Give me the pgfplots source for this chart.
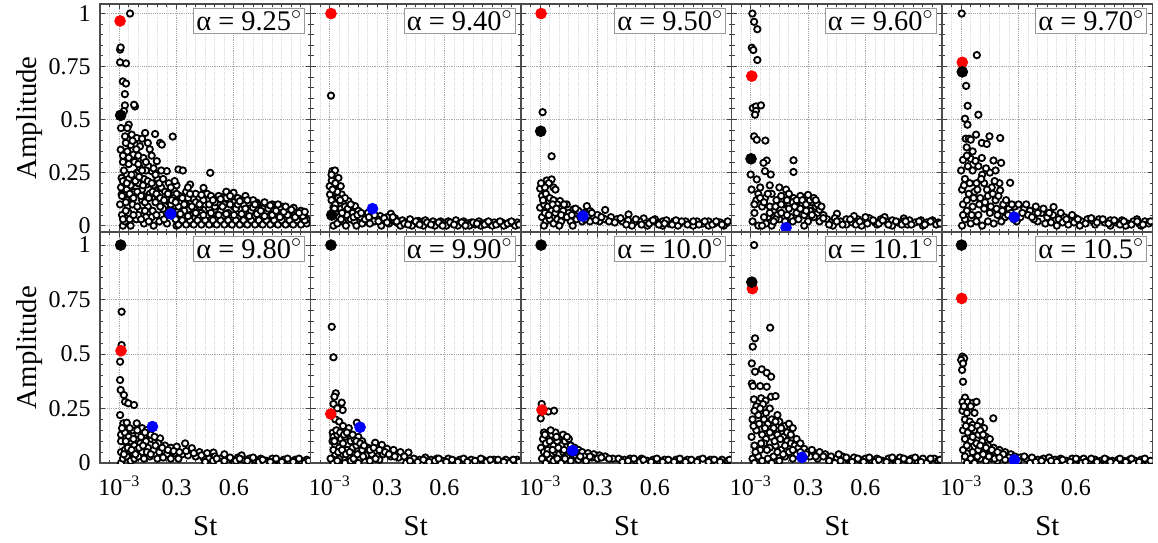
\documentclass[border=0pt]{standalone}
\usepackage{fontspec}
\setmainfont{Liberation Serif}
\usepackage{pgfplots}
\pgfplotsset{compat=1.18}
\tikzset{legbox/.style={draw=gray!80, fill=white, anchor=north east, inner sep=1.2pt, line width=0.5pt, font=\fontsize{14.2}{16}\selectfont}}
\pgfplotsset{
 base/.style={scale only axis, width=105.25pt, anchor=south west, xmin=-0.1, xmax=1,
  xtick={0.001,0.3,0.6},
  minor xtick={-0.05,0.05,0.1,0.15,0.2,0.25,0.35,0.4,0.45,0.5,0.55,0.65,0.7,0.75,0.8,0.85,0.9,0.95},
  ytick={0,0.25,0.5,0.75,1},
  minor ytick={0.05,0.1,0.15,0.2,0.3,0.35,0.4,0.45,0.55,0.6,0.65,0.7,0.8,0.85,0.9,0.95},
  xmajorgrids, ymajorgrids, xminorgrids,
  major grid style={dash pattern=on 0.6pt off 0.5pt, gray!70, line width=0.5pt},
  minor grid style={dash pattern=on 0.6pt off 0.5pt, gray!30, line width=0.45pt},
  tick align=inside, major tick length=2.5pt, minor tick length=1.5pt,
  every tick/.style={black!75, line width=0.5pt},
  axis line style={black!70, line width=0.65pt},
  xticklabels={}, yticklabels={},
  tick label style={font=\fontsize{12}{14}\selectfont},
  yticklabel style={inner ysep=0.3pt, inner xsep=4.5pt},
  label style={font=\fontsize{14.4}{17}\selectfont},
  clip marker paths=true,
 },
 toprow/.style={base, height=114pt, ymin=-0.03, ymax=1.045},
 botrow/.style={base, height=115.5pt, ymin=0, ymax=1.06,
  xticklabels={10\textsuperscript{−3},0.3,0.6}, xlabel={St},
  xticklabel style={anchor=base, yshift=-16pt},
  xlabel style={at={(axis description cs:0.5,-0.273)}, anchor=center}},
 leftcol/.style={yticklabels={0,0.25,0.5,0.75,1}, ylabel={Amplitude},
  ylabel style={at={(axis description cs:-0.333,0.5)}, anchor=center}},
 open/.style={only marks, mark=*, mark size=1.6pt, mark options={fill=white, draw=black, line width=0.9pt}},
 dot/.style={only marks, mark=*, mark size=2.7pt, color=#1, mark options={fill=#1, draw=#1}},
}
\begin{document}
\begin{tikzpicture}
\path[use as bounding box] (0,0) rectangle (579pt,271pt);
% ---------- Panel 1: 9.25
\begin{axis}[toprow, leftcol, at={(50pt,155pt)}]
\addplot[open] coordinates {(0.057,1.0) (0.005,0.83) (0.008,0.84) (0.005,0.77) (0.036,0.765) (0.019,0.68) (0.036,0.67) (0.03,0.62) (0.03,0.567) (0.083,0.562) (0.078,0.57) (0.025,0.54) (0.05,0.476) (0.043,0.46) (0.01,0.46)
(0.031,0.421) (0.066,0.429) (0.092,0.413) (0.136,0.437) (0.188,0.432) (0.214,0.39) (0.223,0.382) (0.28,0.42) (0.008,0.358) (0.043,0.35) (0.083,0.382) (0.109,0.374) (0.074,0.335) (0.127,0.319) (0.197,0.304) (0.153,0.28) (0.109,0.272) (0.04,0.241) (0.092,0.249) (0.17,0.257) (0.249,0.257) (0.31,0.265) (0.333,0.26) (0.476,0.249) (0.013,0.225) (0.074,0.202) (0.144,0.194) (0.214,0.178) (0.284,0.17) (0.371,0.194) (0.441,0.178) (0.013,0.147) (0.066,0.131) (0.127,0.139) (0.188,0.131) (0.249,0.124) (0.319,0.139) (0.389,0.124) (0.441,0.131) (0.493,0.124) (0.546,0.135) (0.598,0.155) (0.659,0.131) (0.72,0.108) (0.781,0.092) (0.86,0.077) (0.912,0.084)
(0.02,0.3) (0.06,0.38) (0.1,0.33) (0.16,0.36) (0.05,0.29) (0.13,0.22) (0.2,0.22) (0.26,0.2) (0.3,0.19) (0.35,0.16) (0.4,0.15) (0.45,0.1) (0.5,0.09) (0.55,0.1) (0.6,0.11) (0.65,0.1) (0.7,0.09) (0.75,0.08) (0.8,0.1) (0.85,0.09) (0.9,0.06) (0.95,0.07)
(0.005,0.1) (0.01,0.18) (0.015,0.05) (0.02,0.0) (0.025,0.26) (0.03,0.2) (0.04,0.17) (0.045,0.09) (0.05,0.22) (0.06,0.19) (0.08,0.24) (0.1,0.2) (0.12,0.17) (0.14,0.26) (0.18,0.19) (0.22,0.18) (0.24,0.09) (0.26,0.13) (0.3,0.15) (0.34,0.07) (0.36,0.18) (0.42,0.09) (0.46,0.15) (0.52,0.14) (0.56,0.16) (0.62,0.13) (0.66,0.14) (0.7,0.12)
(0.04,0.12) (0.08,0.16) (0.12,0.12) (0.16,0.15) (0.2,0.14) (0.24,0.16) (0.28,0.13) (0.32,0.11) (0.36,0.13) (0.4,0.11) (0.44,0.12) (0.48,0.14) (0.52,0.11) (0.56,0.13) (0.6,0.09) (0.64,0.12) (0.68,0.08) (0.72,0.1) (0.76,0.11) (0.8,0.07) (0.84,0.08) (0.88,0.07) (0.92,0.06) (0.96,0.05)
(0.03,0.02) (0.05,0.06) (0.07,0.1) (0.09,0.03) (0.11,0.07) (0.13,0.01) (0.15,0.09) (0.17,0.04) (0.19,0.11) (0.21,0.02) (0.23,0.08) (0.25,0.01) (0.27,0.1) (0.29,0.04) (0.31,0.07) (0.33,0.02) (0.35,0.1) (0.37,0.05) (0.39,0.08) (0.41,0.02) (0.43,0.06) (0.45,0.03) (0.47,0.08) (0.49,0.01) (0.51,0.05) (0.53,0.07) (0.55,0.02) (0.57,0.06) (0.59,0.04) (0.61,0.08) (0.63,0.02) (0.65,0.06) (0.67,0.03) (0.69,0.07) (0.71,0.01) (0.73,0.05) (0.75,0.03) (0.77,0.06) (0.79,0.02) (0.81,0.05) (0.83,0.03) (0.85,0.06) (0.87,0.01) (0.89,0.04) (0.91,0.02) (0.93,0.05) (0.95,0.02) (0.97,0.04)
(0.06,0.0) (0.1,0.05) (0.14,0.04) (0.18,0.0) (0.22,0.05) (0.26,0.06) (0.3,0.0) (0.34,0.04) (0.38,0.01) (0.42,0.04) (0.46,0.05) (0.5,0.03) (0.54,0.04) (0.58,0.01) (0.62,0.04) (0.66,0.01) (0.7,0.04) (0.74,0.01) (0.78,0.04) (0.82,0.01) (0.86,0.03) (0.9,0.01) (0.94,0.03) (0.98,0.01) (0.98,0.03)
(0.31,0.005) (0.33,0.025) (0.35,0.005) (0.37,0.025) (0.39,0.005) (0.41,0.025) (0.43,0.005) (0.45,0.025) (0.47,0.005) (0.49,0.025) (0.51,0.005) (0.53,0.025) (0.55,0.005) (0.57,0.025) (0.59,0.005) (0.61,0.025) (0.63,0.005) (0.65,0.025) (0.67,0.005) (0.69,0.025) (0.71,0.005) (0.73,0.025) (0.75,0.005) (0.77,0.025) (0.79,0.005) (0.81,0.025) (0.83,0.005) (0.85,0.025) (0.87,0.005) (0.89,0.025) (0.91,0.005) (0.93,0.025) (0.95,0.005) (0.97,0.025)
(0.32,0.055) (0.36,0.045) (0.4,0.06) (0.44,0.05) (0.48,0.06) (0.52,0.05) (0.56,0.055) (0.6,0.05) (0.64,0.055) (0.68,0.045) (0.72,0.055) (0.76,0.045) (0.8,0.05) (0.84,0.04) (0.88,0.05) (0.92,0.04) (0.96,0.045)
(0.31,0.09) (0.34,0.1) (0.38,0.09) (0.42,0.1) (0.47,0.1) (0.5,0.11) (0.54,0.09) (0.58,0.1) (0.62,0.1) (0.66,0.08) (0.7,0.085) (0.74,0.07) (0.78,0.08) (0.82,0.07) (0.86,0.065) (0.9,0.075) (0.94,0.06) (0.97,0.065)
(0.33,0.13) (0.37,0.15) (0.43,0.145) (0.49,0.12) (0.53,0.125) (0.58,0.14) (0.63,0.115) (0.67,0.12) (0.71,0.1) (0.79,0.095) (0.83,0.1) (0.87,0.09)
(0.02,0.03) (0.035,0.07) (0.055,0.03) (0.075,0.05) (0.095,0.09) (0.115,0.03) (0.135,0.07) (0.155,0.02) (0.175,0.07) (0.195,0.05) (0.215,0.09) (0.235,0.03) (0.255,0.05) (0.275,0.07) (0.295,0.03)
(0.015,0.14) (0.035,0.11) (0.055,0.15) (0.075,0.13) (0.095,0.16) (0.115,0.14) (0.135,0.11) (0.155,0.13) (0.175,0.16) (0.195,0.15) (0.215,0.13) (0.235,0.12) (0.255,0.15) (0.275,0.12) (0.295,0.11)
(0.02,0.21) (0.04,0.2) (0.065,0.24) (0.085,0.21) (0.105,0.23) (0.125,0.19) (0.15,0.21) (0.17,0.2) (0.19,0.24) (0.21,0.2) (0.23,0.22) (0.27,0.18) (0.29,0.21)
(0.02,0.33) (0.05,0.32) (0.08,0.3) (0.1,0.29) (0.12,0.26) (0.14,0.3) (0.18,0.27) (0.22,0.26) (0.035,0.39) (0.07,0.4) (0.09,0.36) (0.12,0.41) (0.15,0.39) (0.17,0.33)};
\addplot[dot=red] coordinates {(0.005,0.965)};
\addplot[dot=black] coordinates {(0.008,0.52)};
\addplot[dot=blue] coordinates {(0.27,0.055)};
\node[legbox] at (rel axis cs:0.974,0.982) {α = 9.25\textsuperscript{$\circ$}};
\end{axis}
% ---------- Panel 2: 9.40
\begin{axis}[toprow, at={(155.25pt,155pt)}]
\addplot[open] coordinates {(0.007,0.613) (0.014,0.257) (0.028,0.26) (0.011,0.213) (0.046,0.225) (0.02,0.186) (0.0,0.186) (0.058,0.186) (0.002,0.147) (0.063,0.147) (0.037,0.131) (0.072,0.113) (0.098,0.116) (0.133,0.092) (0.02,0.085) (0.264,0.045) (0.32,0.056) (0.342,0.034) (0.465,0.022)
(0.01,0.24) (0.03,0.2) (0.04,0.16) (0.05,0.1) (0.06,0.08) (0.08,0.09) (0.1,0.07) (0.12,0.06) (0.15,0.07) (0.18,0.05) (0.2,0.06) (0.22,0.04) (0.25,0.03) (0.03,0.06) (0.05,0.04) (0.07,0.02) (0.09,0.05) (0.11,0.03) (0.13,0.02) (0.16,0.04) (0.19,0.02) (0.23,0.02) (0.02,0.0) (0.04,0.01) (0.06,0.03) (0.085,0.0) (0.14,0.0) (0.17,0.01) (0.21,0.01) (0.28,0.02) (0.3,0.04) (0.34,0.02) (0.01,0.12) (0.03,0.1) (0.045,0.13) (0.08,0.13)
(0.36,0.01) (0.38,0.025) (0.4,0.015) (0.42,0.03) (0.44,0.01) (0.46,0.02) (0.48,0.01) (0.5,0.025) (0.52,0.01) (0.54,0.02) (0.56,0.01) (0.58,0.02) (0.6,0.01) (0.62,0.02) (0.64,0.01) (0.66,0.025) (0.68,0.01) (0.7,0.02) (0.72,0.01) (0.74,0.015) (0.76,0.005) (0.78,0.02) (0.8,0.01) (0.82,0.015) (0.84,0.005) (0.86,0.015) (0.88,0.01) (0.9,0.015) (0.92,0.005) (0.94,0.015) (0.96,0.01) (0.98,0.015) (0.37,0.0) (0.43,0.0) (0.49,0.0) (0.55,0.0) (0.61,0.0) (0.67,0.0) (0.73,0.0) (0.79,0.0) (0.85,0.0) (0.91,0.0) (0.97,0.0) (0.27,0.0) (0.31,0.01)
(0.35,0.02) (0.39,0.01) (0.41,0.005) (0.45,0.02) (0.47,0.005) (0.51,0.015) (0.53,0.005) (0.57,0.015) (0.59,0.0) (0.63,0.015) (0.65,0.005) (0.69,0.015) (0.71,0.0) (0.75,0.015) (0.77,0.01) (0.81,0.005) (0.83,0.02) (0.87,0.005) (0.89,0.02) (0.93,0.01) (0.95,0.02) (0.99,0.005)
(0.015,0.17) (0.025,0.08) (0.055,0.12) (0.065,0.06) (0.095,0.08) (0.11,0.1) (0.125,0.04) (0.145,0.05) (0.165,0.06) (0.185,0.03) (0.205,0.04) (0.235,0.05) (0.255,0.02) (0.285,0.035) (0.3,0.015) (0.33,0.04)};
\addplot[dot=red] coordinates {(0.007,1.0)};
\addplot[dot=black] coordinates {(0.011,0.05)};
\addplot[dot=blue] coordinates {(0.224,0.08)};
\node[legbox] at (rel axis cs:0.974,0.982) {α = 9.40\textsuperscript{$\circ$}};
\end{axis}
% ---------- Panel 3: 9.50
\begin{axis}[toprow, at={(260.5pt,155pt)}]
\addplot[open] coordinates {(0.013,0.535) (0.06,0.327) (0.0,0.175) (0.034,0.213) (0.06,0.218) (0.045,0.2) (0.025,0.18) (0.07,0.18) (0.08,0.17) (0.0,0.085) (0.104,0.116) (0.139,0.1) (0.174,0.077) (0.244,0.092) (0.261,0.069) (0.34,0.074) (0.462,0.053) (0.541,0.034)
(0.01,0.14) (0.03,0.15) (0.05,0.13) (0.07,0.12) (0.09,0.1) (0.02,0.1) (0.04,0.09) (0.06,0.07) (0.08,0.06) (0.1,0.08) (0.12,0.07) (0.15,0.06) (0.18,0.05) (0.2,0.07) (0.23,0.06) (0.25,0.05) (0.28,0.04) (0.3,0.05) (0.01,0.04) (0.03,0.02) (0.05,0.03) (0.07,0.01) (0.09,0.03) (0.11,0.02) (0.13,0.04) (0.16,0.02) (0.19,0.03) (0.22,0.02) (0.26,0.02) (0.02,0.0) (0.1,0.0) (0.17,0.0) (0.31,0.02) (0.34,0.03) (0.37,0.04) (0.4,0.03) (0.43,0.02) (0.005,0.2) (0.015,0.12)
(0.46,0.025) (0.49,0.015) (0.52,0.02) (0.55,0.01) (0.58,0.02) (0.61,0.015) (0.64,0.02) (0.67,0.01) (0.7,0.02) (0.73,0.01) (0.76,0.02) (0.79,0.01) (0.82,0.02) (0.85,0.01) (0.88,0.02) (0.91,0.01) (0.94,0.015) (0.97,0.01) (0.48,0.0) (0.56,0.0) (0.64,0.0) (0.72,0.0) (0.8,0.0) (0.88,0.0) (0.96,0.0) (0.6,0.03) (0.66,0.025)
(0.45,0.005) (0.5,0.03) (0.53,0.005) (0.57,0.01) (0.59,0.025) (0.62,0.005) (0.65,0.01) (0.69,0.005) (0.71,0.025) (0.74,0.02) (0.77,0.005) (0.8,0.02) (0.83,0.005) (0.86,0.02) (0.9,0.005) (0.92,0.02) (0.95,0.005) (0.98,0.02)
(0.025,0.06) (0.045,0.05) (0.065,0.1) (0.085,0.08) (0.11,0.05) (0.125,0.1) (0.14,0.04) (0.165,0.05) (0.185,0.08) (0.21,0.04) (0.235,0.03) (0.27,0.06) (0.29,0.025) (0.32,0.04) (0.36,0.02) (0.39,0.015) (0.42,0.035)};
\addplot[dot=red] coordinates {(0.005,1.0)};
\addplot[dot=black] coordinates {(0.003,0.445)};
\addplot[dot=blue] coordinates {(0.223,0.045)};
\node[legbox] at (rel axis cs:0.974,0.982) {α = 9.50\textsuperscript{$\circ$}};
\end{axis}
% ---------- Panel 4: 9.60
\begin{axis}[toprow, at={(365.75pt,155pt)}]
\addplot[open] coordinates {(0.009,1.0) (0.018,0.961) (0.035,0.926) (0.006,0.839) (0.014,0.828) (0.035,0.781) (0.011,0.554) (0.028,0.562) (0.054,0.567) (0.028,0.541) (0.023,0.523) (0.018,0.421) (0.032,0.405) (0.077,0.401) (0.084,0.307) (0.067,0.296) (0.224,0.308) (0.224,0.253) (0.0,0.241) (0.075,0.257) (0.105,0.241) (0.032,0.218)
(0.005,0.17) (0.05,0.18) (0.1,0.19) (0.15,0.18) (0.185,0.17) (0.04,0.15) (0.075,0.13) (0.135,0.12) (0.17,0.1) (0.2,0.08) (0.225,0.13) (0.26,0.14) (0.293,0.135) (0.32,0.11) (0.34,0.09) (0.24,0.06) (0.28,0.05) (0.31,0.07) (0.35,0.06) (0.38,0.05) (0.02,0.06) (0.06,0.09) (0.09,0.04) (0.12,0.07) (0.15,0.03) (0.18,0.02) (0.21,0.04) (0.25,0.09) (0.27,0.1) (0.3,0.02) (0.33,0.04) (0.36,0.02) (0.01,0.02) (0.04,0.0) (0.08,0.01) (0.11,0.0) (0.14,0.05) (0.451,0.056) (0.8,0.034) (0.03,0.12) (0.11,0.15) (0.16,0.14) (0.2,0.15)
(0.4,0.03) (0.42,0.015) (0.44,0.035) (0.47,0.02) (0.5,0.03) (0.53,0.015) (0.56,0.03) (0.59,0.02) (0.62,0.035) (0.65,0.015) (0.68,0.03) (0.71,0.02) (0.74,0.025) (0.77,0.015) (0.8,0.02) (0.83,0.025) (0.86,0.015) (0.89,0.025) (0.92,0.015) (0.95,0.025) (0.98,0.015) (0.43,0.0) (0.5,0.005) (0.58,0.0) (0.66,0.005) (0.74,0.0) (0.82,0.005) (0.9,0.0) (0.97,0.005) (0.54,0.045) (0.6,0.04) (0.7,0.04) (0.38,0.035)
(0.22,0.11) (0.24,0.12) (0.27,0.12) (0.29,0.1) (0.31,0.12) (0.33,0.13) (0.3,0.145) (0.26,0.08) (0.23,0.09) (0.35,0.1) (0.36,0.075) (0.32,0.05) (0.29,0.07) (0.34,0.12) (0.37,0.09)
(0.02,0.1) (0.05,0.13) (0.07,0.11) (0.09,0.15) (0.1,0.09) (0.13,0.09) (0.16,0.1) (0.19,0.12) (0.07,0.04) (0.1,0.06) (0.13,0.03) (0.16,0.06) (0.19,0.05) (0.22,0.02) (0.25,0.03) (0.28,0.0) (0.12,0.02) (0.06,0.0)
(0.41,0.005) (0.45,0.02) (0.48,0.005) (0.52,0.03) (0.55,0.005) (0.57,0.02) (0.61,0.01) (0.64,0.025) (0.67,0.01) (0.69,0.025) (0.72,0.005) (0.76,0.02) (0.79,0.005) (0.81,0.02) (0.84,0.005) (0.88,0.02) (0.91,0.005) (0.94,0.02) (0.99,0.01)};
\addplot[dot=red] coordinates {(0.006,0.705)};
\addplot[dot=black] coordinates {(0.002,0.315)};
\addplot[dot=blue] coordinates {(0.185,-0.01)};
\node[legbox] at (rel axis cs:0.974,0.982) {α = 9.60\textsuperscript{$\circ$}};
\end{axis}
% ---------- Panel 5: 9.70
\begin{axis}[toprow, at={(471pt,155pt)}]
\addplot[open] coordinates {(0.003,1.0) (0.082,0.804) (0.026,0.659) (0.034,0.565) (0.09,0.523) (0.02,0.504) (0.033,0.476) (0.024,0.41) (0.04,0.41) (0.05,0.405) (0.078,0.429) (0.108,0.39) (0.148,0.421) (0.204,0.413) (0.029,0.369) (0.134,0.385) (0.01,0.31) (0.05,0.315) (0.075,0.305) (0.108,0.319) (0.169,0.307) (0.209,0.296) (0.035,0.28) (0.11,0.24) (0.15,0.25) (0.256,0.202) (0.204,0.166)
(0.0,0.26) (0.02,0.22) (0.06,0.26) (0.08,0.2) (0.12,0.2) (0.16,0.18) (0.2,0.2) (0.005,0.17) (0.04,0.15) (0.07,0.16) (0.1,0.13) (0.14,0.14) (0.18,0.12) (0.22,0.1) (0.25,0.08) (0.28,0.09) (0.3,0.1) (0.33,0.08) (0.36,0.07) (0.39,0.09) (0.42,0.06) (0.483,0.088) (0.01,0.1) (0.03,0.07) (0.06,0.09) (0.09,0.05) (0.12,0.08) (0.15,0.06) (0.19,0.05) (0.23,0.04) (0.26,0.06) (0.31,0.04) (0.35,0.05) (0.02,0.03) (0.05,0.01) (0.08,0.02) (0.11,0.0) (0.14,0.02) (0.17,0.01) (0.21,0.02) (0.29,0.02) (0.919,0.03) (0.005,0.0) (0.01,0.05)
(0.45,0.04) (0.48,0.05) (0.51,0.03) (0.54,0.04) (0.57,0.02) (0.6,0.035) (0.63,0.02) (0.66,0.03) (0.69,0.02) (0.72,0.03) (0.75,0.015) (0.78,0.025) (0.81,0.015) (0.84,0.025) (0.87,0.01) (0.9,0.02) (0.93,0.01) (0.96,0.02) (0.98,0.01) (0.4,0.02) (0.44,0.01) (0.5,0.0) (0.56,0.005) (0.62,0.0) (0.7,0.005) (0.78,0.0) (0.86,0.0) (0.94,0.0) (0.38,0.03) (0.52,0.06) (0.58,0.05)
(0.015,0.19) (0.03,0.12) (0.045,0.2) (0.055,0.05) (0.065,0.13) (0.085,0.17) (0.095,0.1) (0.105,0.22) (0.125,0.11) (0.135,0.17) (0.155,0.09) (0.165,0.15) (0.175,0.21) (0.185,0.08) (0.195,0.14) (0.215,0.07) (0.235,0.12) (0.245,0.05) (0.265,0.1) (0.275,0.03) (0.32,0.06) (0.34,0.1) (0.37,0.04) (0.4,0.06) (0.43,0.08) (0.46,0.06) (0.03,0.33) (0.06,0.35) (0.09,0.28) (0.13,0.27) (0.18,0.26)
(0.47,0.015) (0.53,0.015) (0.55,0.03) (0.59,0.015) (0.61,0.03) (0.65,0.01) (0.68,0.035) (0.71,0.015) (0.74,0.03) (0.77,0.01) (0.8,0.025) (0.83,0.005) (0.85,0.02) (0.89,0.005) (0.92,0.02) (0.95,0.005) (0.99,0.02)};
\addplot[dot=red] coordinates {(0.006,0.77)};
\addplot[dot=black] coordinates {(0.006,0.725)};
\addplot[dot=blue] coordinates {(0.277,0.04)};
\node[legbox] at (rel axis cs:0.974,0.982) {α = 9.70\textsuperscript{$\circ$}};
\end{axis}
% ---------- Panel 6: 9.80
\begin{axis}[botrow, leftcol, at={(50pt,39.5pt)}]
\addplot[open] coordinates {(0.013,0.694) (0.013,0.541) (0.005,0.465) (0.005,0.381) (0.008,0.335) (0.025,0.312) (0.031,0.281) (0.048,0.274) (0.078,0.266) (0.022,0.182) (0.04,0.185) (0.092,0.182) (0.12,0.16) (0.144,0.151) (0.155,0.135)
(0.01,0.13) (0.03,0.14) (0.05,0.12) (0.07,0.15) (0.1,0.13) (0.13,0.12) (0.01,0.1) (0.04,0.09) (0.06,0.1) (0.08,0.08) (0.11,0.09) (0.14,0.1) (0.17,0.11) (0.19,0.1) (0.214,0.113) (0.24,0.08) (0.27,0.07) (0.301,0.075) (0.345,0.09) (0.38,0.068) (0.42,0.05) (0.46,0.045) (0.493,0.048) (0.01,0.05) (0.03,0.06) (0.05,0.04) (0.07,0.05) (0.09,0.06) (0.12,0.05) (0.15,0.07) (0.18,0.06) (0.21,0.05) (0.25,0.04) (0.29,0.045) (0.33,0.04) (0.36,0.035) (0.4,0.03) (0.01,0.0) (0.02,0.02) (0.04,0.03) (0.06,0.01) (0.08,0.02) (0.1,0.03) (0.13,0.02) (0.16,0.03) (0.2,0.02) (0.23,0.025) (0.27,0.02) (0.31,0.02) (0.005,0.22)
(0.44,0.025) (0.47,0.02) (0.5,0.03) (0.53,0.02) (0.56,0.025) (0.59,0.015) (0.62,0.025) (0.65,0.015) (0.68,0.02) (0.71,0.015) (0.74,0.02) (0.77,0.01) (0.8,0.02) (0.83,0.01) (0.86,0.015) (0.89,0.01) (0.92,0.015) (0.95,0.01) (0.98,0.015) (0.45,0.005) (0.52,0.0) (0.6,0.005) (0.68,0.0) (0.76,0.005) (0.84,0.0) (0.92,0.005) (0.97,0.0) (0.55,0.04) (0.64,0.035)
(0.015,0.16) (0.035,0.1) (0.055,0.16) (0.075,0.11) (0.095,0.15) (0.115,0.12) (0.135,0.14) (0.165,0.13) (0.185,0.12) (0.205,0.09) (0.225,0.07) (0.255,0.06) (0.285,0.055) (0.315,0.05) (0.35,0.055) (0.39,0.045) (0.43,0.035) (0.025,0.04) (0.045,0.07) (0.065,0.06) (0.085,0.04) (0.105,0.07) (0.125,0.08) (0.145,0.05) (0.165,0.04) (0.19,0.08)
(0.49,0.01) (0.51,0.02) (0.55,0.01) (0.58,0.025) (0.61,0.01) (0.63,0.02) (0.67,0.01) (0.7,0.025) (0.73,0.005) (0.75,0.015) (0.79,0.005) (0.82,0.02) (0.85,0.005) (0.88,0.02) (0.91,0.005) (0.94,0.02) (0.99,0.01)};
\addplot[dot=red] coordinates {(0.01,0.515)};
\addplot[dot=black] coordinates {(0.008,1.0)};
\addplot[dot=blue] coordinates {(0.174,0.167)};
\node[legbox] at (rel axis cs:0.974,0.982) {α = 9.80\textsuperscript{$\circ$}};
\end{axis}
% ---------- Panel 7: 9.90
\begin{axis}[botrow, at={(155.25pt,39.5pt)}]
\addplot[open] coordinates {(0.011,0.625) (0.02,0.485) (0.032,0.32) (0.025,0.304) (0.02,0.271) (0.063,0.277) (0.068,0.243) (0.04,0.251) (0.016,0.139) (0.142,0.185) (0.03,0.2) (0.05,0.19) (0.07,0.17) (0.1,0.16)
(0.02,0.12) (0.04,0.13) (0.06,0.11) (0.08,0.12) (0.11,0.1) (0.13,0.11) (0.15,0.12) (0.17,0.1) (0.03,0.08) (0.05,0.07) (0.07,0.09) (0.09,0.06) (0.12,0.07) (0.14,0.08) (0.17,0.06) (0.2,0.07) (0.238,0.093) (0.273,0.083) (0.3,0.065) (0.334,0.06) (0.37,0.05) (0.412,0.048) (0.03,0.04) (0.05,0.02) (0.07,0.04) (0.1,0.03) (0.13,0.04) (0.16,0.02) (0.19,0.035) (0.22,0.04) (0.25,0.03) (0.28,0.04) (0.32,0.03) (0.36,0.025) (0.02,0.0) (0.04,0.01) (0.08,0.0) (0.11,0.01) (0.15,0.0) (0.21,0.01) (0.26,0.015) (0.005,0.02) (0.02,0.06)
(0.44,0.02) (0.47,0.015) (0.5,0.025) (0.53,0.015) (0.56,0.02) (0.59,0.01) (0.62,0.02) (0.65,0.01) (0.68,0.015) (0.71,0.01) (0.74,0.015) (0.77,0.005) (0.8,0.015) (0.83,0.01) (0.86,0.015) (0.89,0.005) (0.92,0.015) (0.95,0.01) (0.98,0.015) (0.4,0.0) (0.48,0.0) (0.58,0.0) (0.66,0.0) (0.75,0.0) (0.85,0.0) (0.94,0.0)
(0.015,0.1) (0.035,0.15) (0.055,0.14) (0.075,0.13) (0.09,0.14) (0.12,0.13) (0.14,0.1) (0.16,0.09) (0.18,0.08) (0.21,0.06) (0.23,0.07) (0.26,0.06) (0.29,0.05) (0.025,0.1) (0.045,0.05) (0.065,0.06) (0.085,0.04) (0.105,0.05) (0.125,0.02) (0.145,0.04) (0.175,0.03) (0.24,0.02) (0.31,0.04) (0.34,0.03) (0.39,0.03)
(0.42,0.01) (0.46,0.005) (0.49,0.015) (0.52,0.005) (0.55,0.01) (0.57,0.02) (0.61,0.005) (0.64,0.015) (0.67,0.005) (0.7,0.02) (0.72,0.005) (0.76,0.01) (0.79,0.02) (0.82,0.005) (0.84,0.015) (0.88,0.015) (0.91,0.005) (0.96,0.015) (0.99,0.005)};
\addplot[dot=red] coordinates {(0.006,0.225)};
\addplot[dot=black] coordinates {(0.007,1.0)};
\addplot[dot=blue] coordinates {(0.159,0.164)};
\node[legbox] at (rel axis cs:0.974,0.982) {α = 9.90\textsuperscript{$\circ$}};
\end{axis}
% ---------- Panel 8: 10.0
\begin{axis}[botrow, at={(260.5pt,39.5pt)}]
\addplot[open] coordinates {(0.008,0.271) (0.003,0.205) (0.043,0.236) (0.073,0.24) (0.02,0.14) (0.04,0.12) (0.06,0.13) (0.08,0.14) (0.1,0.12) (0.015,0.11) (0.03,0.09) (0.05,0.1) (0.07,0.08) (0.09,0.1) (0.11,0.08) (0.13,0.1) (0.15,0.11) (0.16,0.08) (0.18,0.07) (0.2,0.06) (0.22,0.05) (0.25,0.045) (0.28,0.04) (0.31,0.035) (0.005,0.07) (0.02,0.05) (0.04,0.06) (0.06,0.04) (0.08,0.05) (0.1,0.04) (0.12,0.05) (0.14,0.03) (0.17,0.04) (0.19,0.03) (0.23,0.03) (0.27,0.025) (0.01,0.02) (0.03,0.0) (0.05,0.02) (0.07,0.01) (0.09,0.02) (0.11,0.0) (0.13,0.02) (0.16,0.01) (0.2,0.015) (0.24,0.01) (0.3,0.02) (0.34,0.03) (0.38,0.02)
(0.41,0.02) (0.44,0.015) (0.47,0.02) (0.5,0.01) (0.53,0.02) (0.56,0.01) (0.59,0.015) (0.62,0.01) (0.65,0.015) (0.68,0.005) (0.71,0.015) (0.74,0.01) (0.77,0.015) (0.8,0.005) (0.83,0.015) (0.86,0.01) (0.89,0.015) (0.92,0.005) (0.95,0.015) (0.98,0.01) (0.45,0.0) (0.55,0.0) (0.65,0.0) (0.75,0.0) (0.85,0.0) (0.95,0.0)
(0.025,0.13) (0.055,0.15) (0.085,0.12) (0.12,0.13) (0.14,0.12) (0.035,0.04) (0.065,0.06) (0.095,0.07) (0.125,0.06) (0.155,0.05) (0.185,0.05) (0.21,0.03) (0.26,0.03) (0.32,0.025) (0.36,0.02)
(0.43,0.005) (0.46,0.01) (0.49,0.02) (0.52,0.005) (0.54,0.015) (0.58,0.005) (0.61,0.02) (0.64,0.005) (0.67,0.015) (0.7,0.005) (0.73,0.02) (0.76,0.005) (0.79,0.015) (0.82,0.005) (0.85,0.02) (0.88,0.005) (0.91,0.015) (0.94,0.005) (0.99,0.015)};
\addplot[dot=red] coordinates {(0.01,0.243)};
\addplot[dot=black] coordinates {(0.005,1.0)};
\addplot[dot=blue] coordinates {(0.17,0.057)};
\node[legbox] at (rel axis cs:0.974,0.982) {α = 10.0\textsuperscript{$\circ$}};
\end{axis}
% ---------- Panel 9: 10.1
\begin{axis}[botrow, at={(365.75pt,39.5pt)}]
\addplot[open] coordinates {(0.018,1.0) (0.102,0.621) (0.023,0.572) (0.011,0.534) (0.006,0.457) (0.058,0.43) (0.023,0.419) (0.084,0.414) (0.107,0.396) (0.006,0.365) (0.012,0.353) (0.05,0.353) (0.084,0.35) (0.017,0.292) (0.055,0.297) (0.078,0.286) (0.107,0.304) (0.13,0.307)
(0.03,0.26) (0.065,0.27) (0.1,0.25) (0.14,0.22) (0.15,0.19) (0.18,0.17) (0.2,0.18) (0.22,0.16) (0.01,0.2) (0.04,0.22) (0.07,0.2) (0.09,0.18) (0.12,0.16) (0.005,0.12) (0.03,0.15) (0.06,0.13) (0.08,0.11) (0.11,0.12) (0.14,0.13) (0.17,0.12) (0.19,0.1) (0.21,0.09) (0.23,0.08) (0.25,0.07) (0.28,0.065) (0.3,0.05) (0.33,0.045) (0.36,0.05) (0.39,0.04) (0.02,0.08) (0.05,0.06) (0.07,0.09) (0.1,0.07) (0.13,0.08) (0.16,0.06) (0.2,0.05) (0.24,0.04) (0.01,0.02) (0.04,0.03) (0.06,0.01) (0.09,0.02) (0.12,0.03) (0.15,0.01) (0.18,0.03) (0.22,0.02) (0.27,0.02) (0.31,0.03) (0.02,0.0) (0.11,0.0)
(0.42,0.03) (0.45,0.02) (0.48,0.03) (0.51,0.015) (0.54,0.025) (0.57,0.015) (0.6,0.02) (0.63,0.015) (0.66,0.02) (0.69,0.01) (0.72,0.02) (0.75,0.015) (0.78,0.025) (0.81,0.015) (0.84,0.02) (0.87,0.01) (0.9,0.02) (0.93,0.01) (0.96,0.02) (0.98,0.01) (0.44,0.0) (0.52,0.005) (0.6,0.0) (0.68,0.005) (0.76,0.0) (0.84,0.005) (0.92,0.0) (0.35,0.02) (0.46,0.04)
(0.02,0.24) (0.05,0.25) (0.08,0.23) (0.11,0.2) (0.13,0.19) (0.16,0.16) (0.19,0.14) (0.21,0.13) (0.24,0.11) (0.26,0.09) (0.015,0.17) (0.045,0.18) (0.075,0.16) (0.1,0.14) (0.125,0.1) (0.155,0.11) (0.18,0.08) (0.22,0.06) (0.26,0.05) (0.29,0.04) (0.32,0.06) (0.34,0.03) (0.38,0.03) (0.025,0.05) (0.055,0.09) (0.085,0.06) (0.14,0.05) (0.17,0.04)
(0.41,0.01) (0.47,0.01) (0.5,0.025) (0.53,0.005) (0.56,0.02) (0.59,0.005) (0.62,0.025) (0.65,0.005) (0.67,0.015) (0.71,0.005) (0.74,0.025) (0.77,0.005) (0.8,0.02) (0.83,0.01) (0.86,0.025) (0.89,0.005) (0.94,0.02) (0.99,0.015)};
\addplot[dot=red] coordinates {(0.009,0.8)};
\addplot[dot=black] coordinates {(0.006,0.83)};
\addplot[dot=blue] coordinates {(0.268,0.026)};
\node[legbox] at (rel axis cs:0.974,0.982) {α = 10.1\textsuperscript{$\circ$}};
\end{axis}
% ---------- Panel 10: 10.5
\begin{axis}[botrow, at={(471pt,39.5pt)}]
\addplot[open] coordinates {(0.007,0.488) (0.016,0.48) (0.0,0.473) (0.01,0.457) (0.005,0.427) (0.01,0.373) (0.02,0.3) (0.007,0.28) (0.035,0.28) (0.06,0.275) (0.08,0.281) (0.007,0.24) (0.03,0.23) (0.07,0.23) (0.168,0.205) (0.02,0.2) (0.045,0.19) (0.06,0.175) (0.1,0.19) (0.12,0.16)
(0.01,0.15) (0.035,0.14) (0.07,0.15) (0.09,0.13) (0.13,0.12) (0.15,0.11) (0.02,0.11) (0.05,0.1) (0.08,0.09) (0.11,0.1) (0.14,0.08) (0.17,0.07) (0.2,0.06) (0.23,0.05) (0.26,0.04) (0.01,0.06) (0.04,0.07) (0.06,0.05) (0.09,0.06) (0.12,0.05) (0.15,0.04) (0.18,0.045) (0.21,0.03) (0.25,0.025) (0.02,0.03) (0.05,0.02) (0.07,0.0) (0.1,0.02) (0.13,0.01) (0.16,0.02) (0.19,0.01) (0.23,0.015) (0.03,0.0) (0.28,0.03) (0.31,0.025)
(0.34,0.02) (0.37,0.025) (0.4,0.015) (0.43,0.02) (0.46,0.025) (0.49,0.015) (0.52,0.02) (0.55,0.01) (0.58,0.02) (0.61,0.015) (0.64,0.02) (0.67,0.01) (0.7,0.015) (0.73,0.01) (0.76,0.015) (0.79,0.01) (0.82,0.015) (0.85,0.01) (0.88,0.015) (0.91,0.01) (0.94,0.015) (0.97,0.01) (0.36,0.0) (0.45,0.0) (0.54,0.0) (0.63,0.0) (0.72,0.0) (0.81,0.0) (0.9,0.0) (0.98,0.0)
(0.015,0.26) (0.05,0.26) (0.025,0.17) (0.055,0.16) (0.085,0.17) (0.1,0.15) (0.115,0.13) (0.03,0.08) (0.06,0.12) (0.1,0.08) (0.13,0.07) (0.16,0.06) (0.19,0.05) (0.22,0.04) (0.27,0.015) (0.3,0.01) (0.33,0.03) (0.085,0.03) (0.115,0.04) (0.145,0.03) (0.175,0.02) (0.2,0.025)
(0.39,0.005) (0.42,0.01) (0.47,0.01) (0.5,0.005) (0.53,0.015) (0.57,0.005) (0.6,0.02) (0.65,0.005) (0.68,0.02) (0.71,0.005) (0.75,0.02) (0.78,0.005) (0.83,0.02) (0.86,0.005) (0.89,0.02) (0.93,0.005) (0.96,0.02) (0.99,0.01)};
\addplot[dot=red] coordinates {(0.003,0.755)};
\addplot[dot=black] coordinates {(0.002,1.0)};
\addplot[dot=blue] coordinates {(0.278,0.014)};
\node[legbox] at (rel axis cs:0.974,0.982) {α = 10.5\textsuperscript{$\circ$}};
\end{axis}
\end{tikzpicture}
\end{document}
